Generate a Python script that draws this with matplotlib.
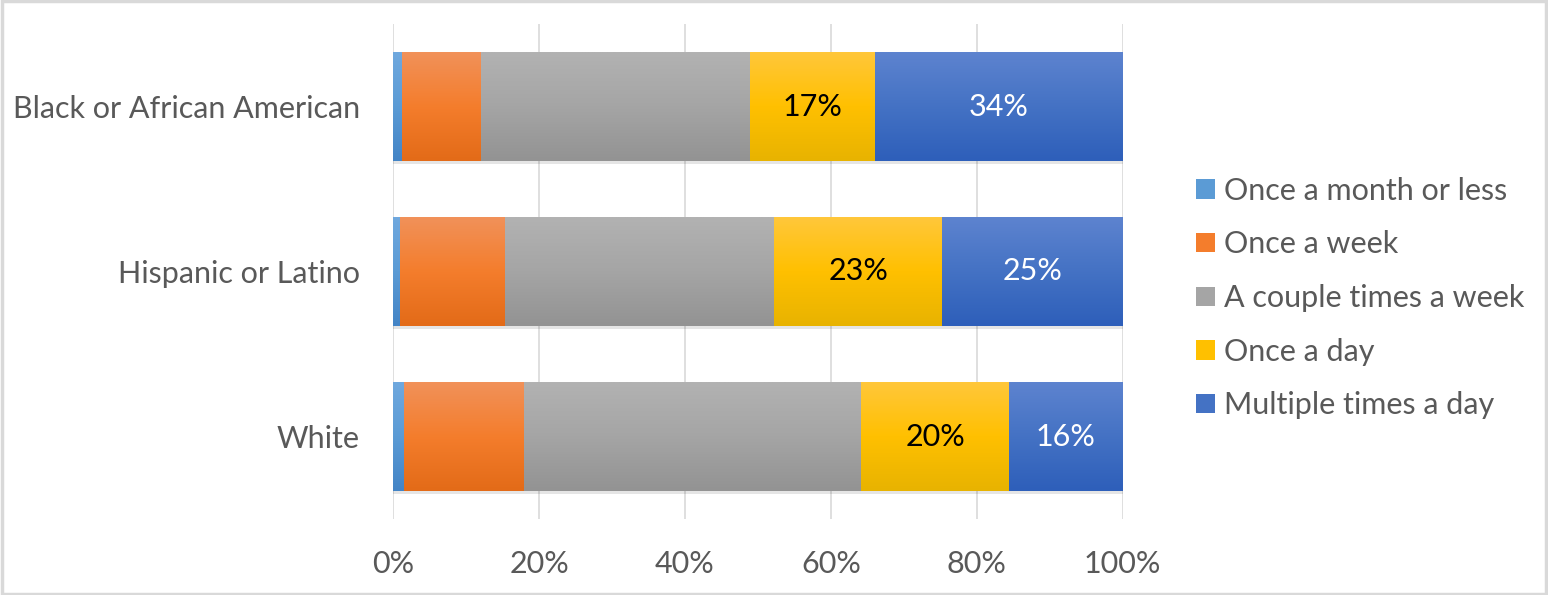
import numpy as np
import matplotlib.pyplot as plt
from matplotlib.colors import LinearSegmentedColormap
from matplotlib.patches import Patch, Rectangle
import matplotlib.patheffects as pe

plt.rcParams['font.family'] = ['Lato', 'DejaVu Sans']

groups = ['Black or African American', 'Hispanic or Latino', 'White']
series = ['Once a month or less', 'Once a week', 'A couple times a week',
          'Once a day', 'Multiple times a day']
month_or_less = [1.15, 0.9, 1.4]
once_week = [10.9, 14.4, 16.5]
couple_week = [36.8, 36.9, 46.3]
once_day = [17.2, 23.1, 20.2]
multi_day = [34.0, 24.7, 15.6]
values = [month_or_less, once_week, couple_week, once_day, multi_day]
show_label = [False, False, False, True, True]

# gradient stops: top, middle, bottom
grads = [
    ['#6fa8de', '#5b9bd5', '#4384c6'],
    ['#f19159', '#f47d2c', '#e36b18'],
    ['#b2b2b2', '#a5a5a5', '#939393'],
    ['#ffc73a', '#ffc000', '#e8b300'],
    ['#5d83cf', '#4472c4', '#2e5fba'],
]
label_colors = [None, None, None, 'black', 'white']
text_gray = '#595959'
fs = 22

fig = plt.figure(figsize=(15.48, 5.95), dpi=100)
ax = fig.add_axes([393.3 / 1548, 1 - 519 / 595, (1122.5 - 393.3) / 1548, 495 / 595])

ypos = np.arange(len(groups))[::-1]
bar_h = 0.655
left = np.zeros(len(groups))
grad_img = np.linspace(1, 0, 64).reshape(-1, 1)

for k, name in enumerate(series):
    vals = np.array(values[k])
    cmap = LinearSegmentedColormap.from_list('g%d' % k, grads[k])
    bars = ax.barh(ypos, vals, left=left, height=bar_h, color=grads[k][1],
                   linewidth=0, zorder=2)
    for b in bars:
        b.set_path_effects([pe.SimplePatchShadow(offset=(0, -2.5), alpha=0.1, shadow_rgbFace='black'),
                            pe.Normal()])
        x0, y0 = b.get_x(), b.get_y()
        im = ax.imshow(grad_img, cmap=cmap, aspect='auto', zorder=2.1, vmin=0, vmax=1,
                       extent=[x0, x0 + b.get_width(), y0, y0 + b.get_height()],
                       origin='lower')
        im.set_clip_path(b)
    if show_label[k]:
        for y, l, v in zip(ypos, left, vals):
            ax.text(l + v / 2, y, '%d%%' % round(v), ha='center', va='center',
                    fontsize=fs, color=label_colors[k], zorder=3)
    left = left + vals

ax.set_xlim(0, 100)
ax.set_ylim(-0.5, 2.5)
ax.set_xticks([0, 20, 40, 60, 80, 100])
ax.set_xticklabels(['%d%%' % t for t in [0, 20, 40, 60, 80, 100]])
ax.set_yticks(ypos)
ax.set_yticklabels(groups)
ax.tick_params(axis='both', length=0, labelsize=fs, labelcolor=text_gray)
ax.tick_params(axis='y', pad=24)
ax.tick_params(axis='x', pad=22)
ax.grid(axis='x', color='#d9d9d9', linewidth=1.2, zorder=0)
ax.set_axisbelow(True)
for s in ax.spines.values():
    s.set_visible(False)

handles = [Patch(facecolor=grads[k][1], edgecolor='none', label=series[k])
           for k in range(len(series))]
fig.legend(handles=handles, loc='center left', bbox_to_anchor=(1181 / 1548, 1 - 298 / 595),
           frameon=False, fontsize=fs, labelcolor=text_gray, handlelength=0.6,
           handleheight=0.6, handletextpad=0.3, labelspacing=0.84, borderpad=0)

fig.patches.append(Rectangle((0.001, 0.002), 0.998, 0.996, transform=fig.transFigure,
                             fill=False, edgecolor='#d9d9d9', linewidth=2.5))

fig.savefig('out.png', dpi=100, facecolor='white')
